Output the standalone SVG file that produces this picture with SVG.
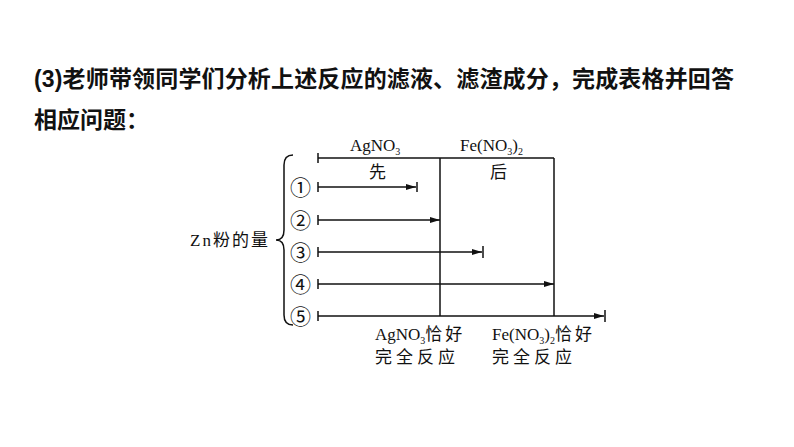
<svg xmlns="http://www.w3.org/2000/svg" width="794" height="447" viewBox="0 0 794 447">
<style>
.t{font-family:"Liberation Serif","Noto Sans CJK SC",serif;font-size:17px;fill:#111}
.c{font-family:"Noto Sans CJK SC","DejaVu Sans",sans-serif;font-size:21px;fill:#111}
.h{font-family:"Liberation Sans","Noto Sans CJK SC",sans-serif;font-size:23px;font-weight:bold;fill:#111}
.l{stroke:#111;stroke-width:1.5;fill:none}
</style>
<defs><marker id="a" markerWidth="10" markerHeight="6" refX="10" refY="3" orient="auto" markerUnits="userSpaceOnUse"><path d="M0,0L10,3L0,6Z" fill="#111"/></marker></defs>
<rect width="794" height="447" fill="#fff"/>
<text class="h" x="34" y="87" textLength="700">(3)老师带领同学们分析上述反应的滤液、滤渣成分，完成表格并回答</text>
<text class="h" x="34" y="128">相应问题：</text>
<g id="labels">
<text class="t" x="350" y="151">AgNO<tspan font-size="10" dy="4">3</tspan></text>
<text class="t" x="460" y="151">Fe(NO<tspan font-size="10" dy="4">3</tspan><tspan dy="-4">)</tspan><tspan font-size="10" dy="4">2</tspan></text>
<text class="t" x="369" y="178">先</text>
<text class="t" x="490" y="178">后</text>
<text class="t" x="190" y="246" letter-spacing="2">Zn粉的量</text>
<text class="c" x="290" y="195">①</text>
<text class="c" x="290" y="228">②</text>
<text class="c" x="290" y="260">③</text>
<text class="c" x="290" y="292">④</text>
<text class="c" x="290" y="324">⑤</text>
<text class="t" x="375" y="340">AgNO<tspan font-size="10" dy="4">3</tspan><tspan dy="-4" letter-spacing="3">恰好</tspan></text>
<text class="t" x="375" y="363" letter-spacing="4">完全反应</text>
<text class="t" x="492" y="340">Fe(NO<tspan font-size="10" dy="4">3</tspan><tspan dy="-4">)</tspan><tspan font-size="10" dy="4">2</tspan><tspan dy="-4" letter-spacing="3">恰好</tspan></text>
<text class="t" x="492" y="363" letter-spacing="4">完全反应</text>
</g>
<g id="connectors">
<path class="l" d="M293,155 Q284,155 284,165 L284,230 Q284,240 276,240 Q284,240 284,250 L284,315 Q284,325 293,325"/>
<line class="l" x1="318" y1="158" x2="554" y2="158"/><line class="l" x1="318" y1="153" x2="318" y2="163"/>
<line class="l" x1="440" y1="158" x2="440" y2="316"/>
<line class="l" x1="554" y1="158" x2="554" y2="316"/>
<line class="l" x1="318" y1="187" x2="416" y2="187" marker-end="url(#a)"/><line class="l" x1="318" y1="182" x2="318" y2="192"/><line class="l" x1="417" y1="182" x2="417" y2="192"/>
<line class="l" x1="318" y1="220" x2="440" y2="220" marker-end="url(#a)"/><line class="l" x1="318" y1="215" x2="318" y2="225"/>
<line class="l" x1="318" y1="252" x2="482" y2="252" marker-end="url(#a)"/><line class="l" x1="318" y1="247" x2="318" y2="257"/><line class="l" x1="483" y1="246" x2="483" y2="258"/>
<line class="l" x1="318" y1="284" x2="554" y2="284" marker-end="url(#a)"/><line class="l" x1="318" y1="279" x2="318" y2="289"/>
<line class="l" x1="318" y1="316" x2="604" y2="316" marker-end="url(#a)"/><line class="l" x1="318" y1="311" x2="318" y2="321"/><line class="l" x1="605" y1="310" x2="605" y2="322"/>
</g>
</svg>
